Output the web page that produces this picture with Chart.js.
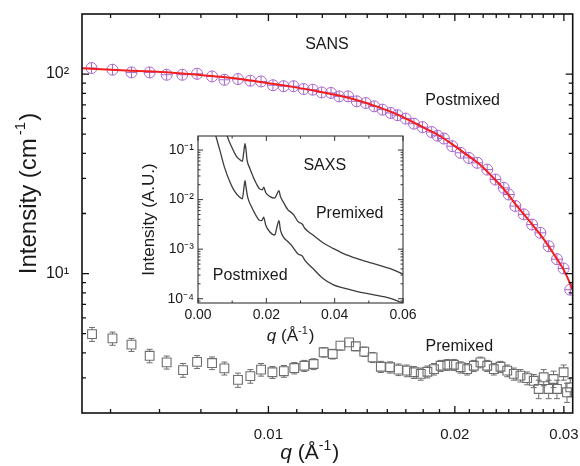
<!DOCTYPE html>
<html><head><meta charset="utf-8">
<script src="https://cdn.jsdelivr.net/npm/chart.js@4.4.1/dist/chart.umd.min.js"></script>
<style>
html,body{margin:0;padding:0;background:#fff;}
#wrap{position:relative;width:580px;height:466px;overflow:hidden;}
#main{position:absolute;left:0;top:0;}
#inset{position:absolute;left:130px;top:128px;}
</style></head><body>
<div id="wrap"><canvas id="main" width="580" height="466"></canvas><canvas id="inset" width="290" height="222"></canvas></div>
<script>
// ---------- DATA ----------
// SANS, postmixed (circles) : q (1/Å), intensity (1/cm)
const sansQ = [0.00518,0.00560,0.00601,0.00643,0.00685,0.00726,0.00767,0.00811,0.00849,0.00893,0.00935,0.00973,0.01017,0.01058,0.01098,0.01140,0.01179,0.01219,0.01262,0.01301,0.01345,0.01389,0.01436,0.01482,0.01528,0.01576,0.01616,0.01666,0.01718,0.01773,0.01835,0.01876,0.01920,0.01981,0.02043,0.02107,0.02174,0.02256,0.02326,0.02399,0.02444,0.02505,0.02584,0.02666,0.02749,0.02835,0.02924,0.02997,0.03072];
const sansI = [107.2,105.1,101.9,101.9,99.2,99.2,100.3,97.3,93.6,94.4,92.6,91.8,87.9,86.9,86.9,84.1,83.5,80.9,80.4,77.3,77.3,73.0,71.6,68.9,66.3,63.8,62.2,59.8,56.4,54.2,51.2,49.1,47.5,43.5,40.3,38.0,35.9,33.2,29.6,26.9,24.9,21.8,19.8,17.6,16.0,13.7,11.8,10.6,8.3];
// fit curve (red)
const fitQ = [0.005,0.006,0.007,0.008,0.009,0.010,0.011,0.012,0.013,0.014,0.015,0.016,0.017,0.018,0.019,0.020,0.021,0.022,0.023,0.024,0.025,0.026,0.027,0.028,0.029,0.030,0.031];
const fitI = [107,104,101.5,98,94.5,90,86,82,78,73.5,68.5,63.5,58,53,48.5,43.5,39,35,30.5,26.5,22.5,19.4,16.8,14.5,12.3,10.4,8.3];
// SANS, premixed (squares) with error
const preQ = [0.00519,0.00560,0.00601,0.00643,0.00685,0.00728,0.00767,0.00811,0.00849,0.00893,0.00935,0.00973,0.01015,0.01059,0.01101,0.01143,0.01183,0.01228,0.01270,0.01307,0.01350,0.01384,0.01428,0.01473,0.01519,0.01572,0.01622,0.01673,0.01718,0.01762,0.01806,0.01851,0.01897,0.01945,0.01993,0.02043,0.02094,0.02146,0.02200,0.02256,0.02312,0.02370,0.02430,0.02490,0.02553,0.02617,0.02682,0.02732,0.02783,0.02835,0.02887,0.02924,0.02997,0.03035,0.03072];
const preI = [4.97,4.73,4.40,3.87,3.59,3.28,3.61,3.56,3.35,2.93,3.06,3.30,3.20,3.24,3.36,3.45,3.52,4.03,3.95,4.35,4.52,4.32,4.06,3.80,3.41,3.39,3.30,3.26,3.20,3.14,3.22,3.32,3.45,3.49,3.49,3.39,3.32,3.45,3.59,3.45,3.32,3.41,3.26,3.14,3.08,2.99,2.90,2.64,3.02,2.64,2.96,2.64,3.20,2.54,2.69];
const preErr = [0.40,0.36,0.33,0.30,0.27,0.26,0.27,0.26,0.25,0.24,0.24,0.24,0.22,0.22,0.22,0.22,0.22,0.22,0.22,0.22,0.22,0.22,0.22,0.22,0.22,0.22,0.22,0.22,0.22,0.22,0.22,0.22,0.22,0.22,0.22,0.22,0.22,0.22,0.22,0.22,0.22,0.22,0.22,0.22,0.22,0.22,0.22,0.28,0.28,0.28,0.28,0.28,0.28,0.28,0.28];
// main axis ticks
const xTickVals = [0.00556,0.00667,0.00778,0.00889,0.01,0.01111,0.01222,0.01333,0.01444,0.01556,0.01667,0.01778,0.01889,0.02,0.02111,0.02222,0.02333,0.02444,0.02556,0.02667,0.02778,0.02889,0.03];
const xMajor = [0.01,0.02,0.03];
const xTickLabels = ['0.01','0.02','0.03'];
const yTickVals = [3,4,5,6,7,8,9,10,20,30,40,50,60,70,80,90,100];
const yMajor = [10,100];
const yTickLabels = ['10\u00B9','10\u00B2'];
// main annotations (in data coordinates)
const noteText = ['SANS','Postmixed','Premixed'];
const noteQ = [0.01243,0.02059,0.02034];
const noteI = [140,73.5,4.31];

// SAXS inset
const saxsPreQ = [0.0078,0.00849,0.00977,0.01124,0.01220,0.01299,0.01337,0.01376,0.01405,0.01434,0.01513,0.01610,0.01709,0.01806,0.01885,0.01923,0.01981,0.02098,0.02245,0.02312,0.02371,0.02412,0.02488,0.02634,0.02734,0.02801,0.02927,0.03056,0.03123,0.03366,0.03659,0.03951,0.04244,0.04636,0.05122,0.05610,0.06];
const saxsPreI = [0.30,0.197,0.119,0.0748,0.0641,0.0593,0.0877,0.134,0.102,0.0641,0.0436,0.0294,0.0209,0.0163,0.0158,0.0179,0.0139,0.0116,0.0107,0.0131,0.0151,0.0116,0.00914,0.00621,0.00547,0.00492,0.00360,0.00318,0.00264,0.00193,0.00135,0.00104,0.000822,0.000650,0.000515,0.000408,0.000313];
const saxsPostQ = [0.0045,0.00518,0.00635,0.00781,0.00928,0.01074,0.01220,0.01299,0.01337,0.01376,0.01405,0.01454,0.01563,0.01659,0.01785,0.01864,0.01923,0.01981,0.02098,0.02245,0.02312,0.02371,0.02412,0.02508,0.02634,0.02734,0.02801,0.02927,0.03056,0.03123,0.03366,0.03659,0.03951,0.04244,0.04636,0.05122,0.05610,0.06];
const saxsPostI = [0.30,0.197,0.102,0.0436,0.0233,0.0146,0.0112,0.0104,0.0158,0.0240,0.0179,0.0112,0.00724,0.00532,0.00389,0.00377,0.00442,0.00308,0.00225,0.00193,0.00284,0.00377,0.00244,0.00173,0.00141,0.00121,0.00104,0.000796,0.000724,0.000601,0.000408,0.000256,0.000193,0.000165,0.000141,0.000121,0.000103,0.0000818];
const insetXTickVals = [0,0.01,0.02,0.03,0.04,0.05,0.06];
const insetXMajor = [0,0.02,0.04,0.06];
const insetXLabels = ['0.00','0.02','0.04','0.06'];
const insetYTickVals = [0.00009,0.0001,0.0002,0.0003,0.0004,0.0005,0.0006,0.0007,0.0008,0.0009,0.001,0.002,0.003,0.004,0.005,0.006,0.007,0.008,0.009,0.01,0.02,0.03,0.04,0.05,0.06,0.07,0.08,0.09,0.1];
const insetYMajor = [0.0001,0.001,0.01,0.1];
const insetYLabels = ['10\u207B\u2074','10\u207B\u00B3','10\u207B\u00B2','10\u207B\u00B9'];
const insetNoteText = ['SAXS','Premixed','Postmixed'];
const insetNoteQ = [0.0371,0.0444,0.01528];
const insetNoteI = [0.0485,0.00527,0.000299];

// ---------- RENDERING ----------
const FONT = "'Liberation Sans', Arial, Helvetica, sans-serif";
Chart.defaults.font.family = FONT;
Chart.defaults.color = '#1a1a1a';

const pts = (xs, ys) => xs.map((x, i) => ({x, y: ys[i]}));
const near = (v, arr) => arr.findIndex(a => Math.abs(a - v) <= Math.abs(a) * 1e-6 + 1e-12);

function drawMixed(ctx, parts, cx, y) {
  let w = 0;
  parts.forEach(p => { ctx.font = p.font; p.w = ctx.measureText(p.t).width; w += p.w + (p.gap || 0); });
  let x = cx - w / 2;
  ctx.textAlign = 'left'; ctx.textBaseline = 'alphabetic';
  parts.forEach(p => { x += (p.gap || 0); ctx.font = p.font; ctx.fillText(p.t, x, y + (p.dy || 0)); x += p.w; });
}

function framePlugin(cfg) {
  return {
    id: 'frame_' + cfg.name,
    afterDatasetsDraw(chart) {
      const {ctx, chartArea: a} = chart;
      const xs = chart.scales.x, ys = chart.scales.y;
      ctx.save();
      // error bars
      if (cfg.errors) {
        ctx.strokeStyle = cfg.errors.color; ctx.lineWidth = 1;
        ctx.beginPath();
        cfg.errors.q.forEach((q, i) => {
          const px = xs.getPixelForValue(q);
          const py = ys.getPixelForValue(cfg.errors.v[i]);
          const hi = ys.getPixelForValue(cfg.errors.v[i] + cfg.errors.e[i]);
          const lo = ys.getPixelForValue(cfg.errors.v[i] - cfg.errors.e[i]);
          const h = cfg.errors.half;
          if (py - hi > h) { ctx.moveTo(px, py - h); ctx.lineTo(px, hi); ctx.moveTo(px - 3, hi); ctx.lineTo(px + 3, hi); }
          if (lo - py > h) { ctx.moveTo(px, py + h); ctx.lineTo(px, lo); ctx.moveTo(px - 3, lo); ctx.lineTo(px + 3, lo); }
        });
        ctx.stroke();
      }
      // inward ticks on all four sides
      ctx.strokeStyle = cfg.color;
      ctx.lineWidth = cfg.tickWidth;
      ctx.beginPath();
      cfg.xTicks.forEach(v => {
        const p = xs.getPixelForValue(v);
        const len = near(v, cfg.xMajor) >= 0 ? cfg.major : cfg.minor;
        ctx.moveTo(p, a.bottom); ctx.lineTo(p, a.bottom - len);
        ctx.moveTo(p, a.top); ctx.lineTo(p, a.top + len);
      });
      cfg.yTicks.forEach(v => {
        const p = ys.getPixelForValue(v);
        const len = near(v, cfg.yMajor) >= 0 ? cfg.major : cfg.minor;
        ctx.moveTo(a.left, p); ctx.lineTo(a.left + len, p);
        ctx.moveTo(a.right, p); ctx.lineTo(a.right - len, p);
      });
      ctx.stroke();
      ctx.lineWidth = cfg.frameWidth;
      ctx.strokeRect(a.left, a.top, a.right - a.left, a.bottom - a.top);
      // annotations
      ctx.fillStyle = '#1a1a1a';
      ctx.textAlign = 'center'; ctx.textBaseline = 'middle';
      ctx.font = cfg.noteFont;
      cfg.notes.t.forEach((t, i) => ctx.fillText(t, xs.getPixelForValue(cfg.notes.q[i]), ys.getPixelForValue(cfg.notes.v[i])));
      // x axis title with italic q
      drawMixed(ctx, cfg.xTitle, a.left + (a.right - a.left) * cfg.xTitlePos, a.bottom + cfg.xTitleDy);
      // y axis title (rotated) with raised exponent
      if (cfg.yTitle) {
        ctx.save();
        ctx.translate(cfg.yTitleX, a.top + (a.bottom - a.top) * cfg.yTitlePos);
        ctx.rotate(-Math.PI / 2);
        drawMixed(ctx, cfg.yTitle, 0, 0);
        ctx.restore();
      }
      ctx.restore();
    }
  };
}

function tickSetter(vals, major) {
  return s => { s.ticks = vals.map(v => ({value: v, major: near(v, major) >= 0})); };
}
function labeler(major, labels) {
  return (v, i, t) => { const k = near(t[i].value, major); return k >= 0 ? labels[k] : ''; };
}
function fitX(h) { return s => { s.height = h; s.paddingLeft = 0; s.paddingRight = 0; }; }
function fitY(w) { return s => { s.width = w; s.paddingTop = 0; s.paddingBottom = 0; }; }

const PURPLE = '#a866cc';

new Chart(document.getElementById('main'), {
  type: 'scatter',
  data: {
    datasets: [
      { label: 'Fit', data: pts(fitQ, fitI), showLine: true, borderColor: '#f21d1d', borderWidth: 2, pointRadius: 0, tension: 0.4, order: 0 },
      { label: 'Postmixed', data: pts(sansQ, sansI), pointStyle: 'circle', pointRadius: 5.5, borderColor: PURPLE, backgroundColor: 'rgba(0,0,0,0)', borderWidth: 1, order: 1 },
      { label: 'Postmixed err', data: pts(sansQ, sansI), pointStyle: 'cross', pointRadius: 5.5, borderColor: PURPLE, backgroundColor: 'rgba(0,0,0,0)', borderWidth: 1, order: 1 },
      { label: 'Premixed', data: pts(preQ, preI), pointStyle: 'rect', pointRadius: 6.2, borderColor: '#6e6e6e', backgroundColor: 'rgba(0,0,0,0)', borderWidth: 1.1, order: 2 }
    ]
  },
  options: {
    responsive: false, animation: false, devicePixelRatio: 1,
    layout: { padding: { left: 0, top: 14, right: 7, bottom: 0 } },
    plugins: { legend: { display: false }, tooltip: { enabled: false } },
    scales: {
      x: {
        type: 'logarithmic', min: 0.005, max: 0.031, position: 'bottom',
        afterBuildTicks: tickSetter(xTickVals, xMajor),
        afterFit: fitX(53),
        grid: { display: false, drawTicks: false }, border: { display: false },
        ticks: { autoSkip: false, maxRotation: 0, padding: 13, color: '#1a1a1a', font: { size: 15 }, callback: labeler(xMajor, xTickLabels) }
      },
      y: {
        type: 'logarithmic', min: 2, max: 200, position: 'left',
        afterBuildTicks: tickSetter(yTickVals, yMajor),
        afterFit: fitY(82),
        grid: { display: false, drawTicks: false }, border: { display: false },
        ticks: { autoSkip: false, padding: 13, color: '#1a1a1a', font: { size: 16 }, callback: labeler(yMajor, yTickLabels) },
        title: { display: false }
      }
    }
  },
  plugins: [framePlugin({
    name: 'main', color: '#111', tickWidth: 1.3, frameWidth: 1.6, major: 7, minor: 4,
    xTicks: xTickVals, xMajor, yTicks: yTickVals, yMajor,
    errors: { q: preQ, v: preI, e: preErr, half: 4.4, color: '#6e6e6e' },
    notes: { t: noteText, q: noteQ, v: noteI }, noteFont: '16px ' + FONT,
    xTitle: [
      { t: 'q', font: 'italic 21px ' + FONT },
      { t: ' (\u00C5', font: '21px ' + FONT },
      { t: '-1', font: '14px ' + FONT, dy: -9 },
      { t: ')', font: '21px ' + FONT, gap: 1 }
    ],
    xTitlePos: 0.464, xTitleDy: 46,
    yTitle: [
      { t: 'Intensity (cm', font: '24px ' + FONT },
      { t: '-1', font: '15px ' + FONT, dy: -11, gap: 3 },
      { t: ')', font: '24px ' + FONT, gap: 1 }
    ],
    yTitleX: 36, yTitlePos: 0.45
  })]
});

new Chart(document.getElementById('inset'), {
  type: 'scatter',
  data: {
    datasets: [
      { label: 'Premixed', data: pts(saxsPreQ, saxsPreI), showLine: true, borderColor: '#3d3d3d', borderWidth: 1.3, pointRadius: 0, cubicInterpolationMode: 'monotone' },
      { label: 'Postmixed', data: pts(saxsPostQ, saxsPostI), showLine: true, borderColor: '#3d3d3d', borderWidth: 1.3, pointRadius: 0, cubicInterpolationMode: 'monotone' }
    ]
  },
  options: {
    responsive: false, animation: false, devicePixelRatio: 1,
    layout: { padding: { left: 0, top: 8, right: 17, bottom: 0 } },
    plugins: { legend: { display: false }, tooltip: { enabled: false } },
    scales: {
      x: {
        type: 'linear', min: 0, max: 0.06, position: 'bottom',
        afterBuildTicks: tickSetter(insetXTickVals, insetXMajor),
        afterFit: fitX(47),
        grid: { display: false, drawTicks: false }, border: { display: false },
        ticks: { autoSkip: false, maxRotation: 0, padding: 4, color: '#1a1a1a', font: { size: 14 }, callback: labeler(insetXMajor, insetXLabels) }
      },
      y: {
        type: 'logarithmic', min: 0.000082, max: 0.192, position: 'left',
        afterBuildTicks: tickSetter(insetYTickVals, insetYMajor),
        afterFit: fitY(68),
        grid: { display: false, drawTicks: false }, border: { display: false },
        ticks: { autoSkip: false, padding: 4, color: '#1a1a1a', font: { size: 14 }, callback: labeler(insetYMajor, insetYLabels) },
        title: { display: true, text: 'Intensity (A.U.)', color: '#1a1a1a', font: { size: 17 }, padding: { top: 9, bottom: 0 } }
      }
    }
  },
  plugins: [framePlugin({
    name: 'inset', color: '#333', tickWidth: 1, frameWidth: 1.1, major: 5, minor: 2.5,
    xTicks: insetXTickVals, xMajor: insetXMajor, yTicks: insetYTickVals, yMajor: insetYMajor,
    notes: { t: insetNoteText, q: insetNoteQ, v: insetNoteI }, noteFont: '16px ' + FONT,
    xTitle: [
      { t: 'q', font: 'italic 17px ' + FONT },
      { t: ' (\u00C5', font: '17px ' + FONT },
      { t: '-1', font: '11px ' + FONT, dy: -7 },
      { t: ')', font: '17px ' + FONT, gap: 1 }
    ],
    xTitlePos: 0.452, xTitleDy: 38
  })]
});
</script>
</body></html>
